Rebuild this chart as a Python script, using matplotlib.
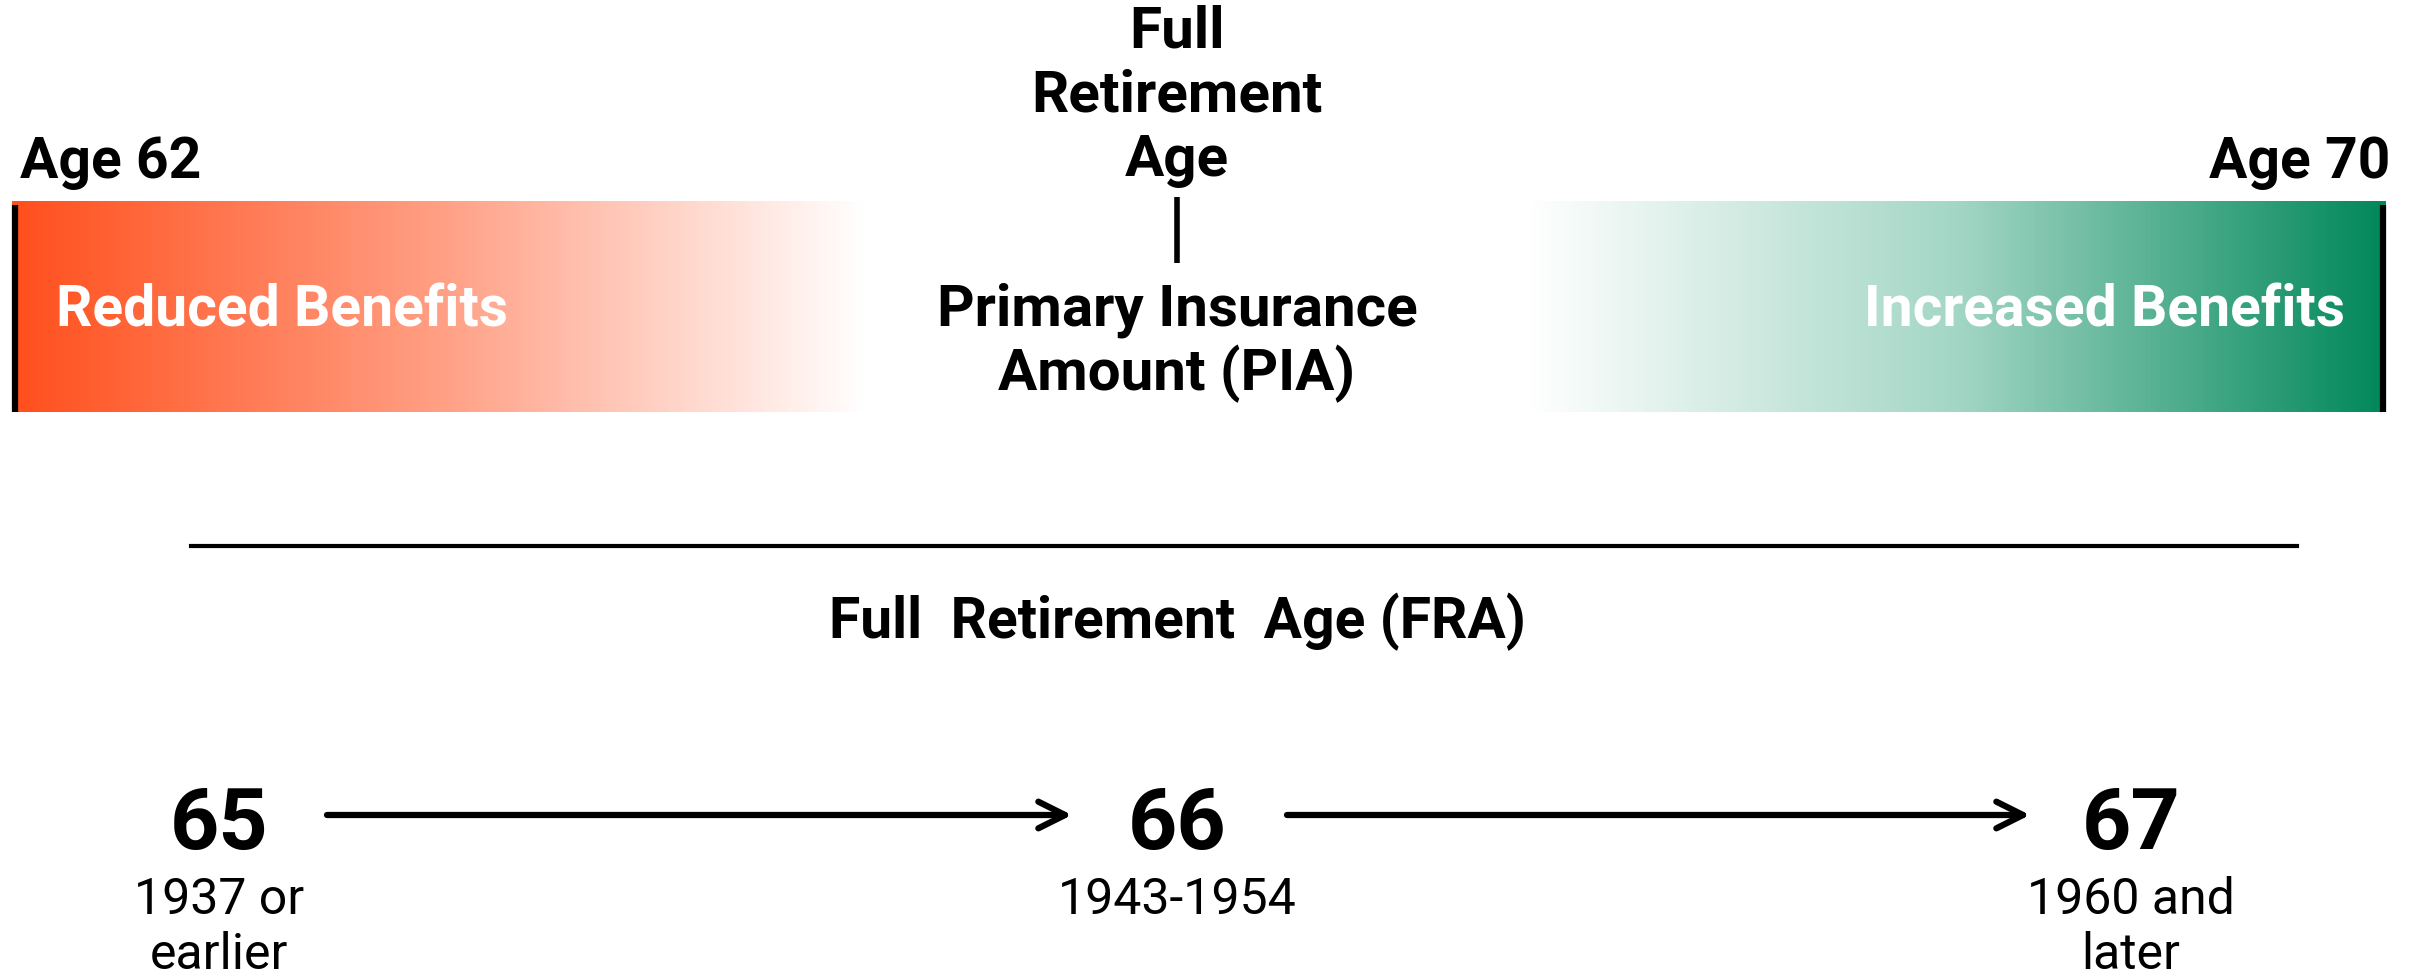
import numpy as np
import matplotlib.pyplot as plt
from matplotlib.colors import LinearSegmentedColormap

plt.rcParams['font.family'] = ['Roboto', 'DejaVu Sans']

# chart content
start_age = "Age 62"
end_age = "Age 70"
left_label = "Reduced Benefits"
right_label = "Increased Benefits"
fra_title = ["Full", "Retirement", "Age"]
pia_title = ["Primary Insurance", "Amount (PIA)"]
section_title = "Full  Retirement  Age (FRA)"
fra_ages = [65, 66, 67]
birth_years = [["1937 or", "earlier"], ["1943-1954"], ["1960 and", "later"]]

W, H = 2420, 976
fig = plt.figure(figsize=(W / 100, H / 100), dpi=100)
ax = fig.add_axes([0, 0, 1, 1])
ax.set_xlim(0, W)
ax.set_ylim(H, 0)
ax.axis('off')

# gradient bars
grad = np.linspace(0, 1, 256).reshape(1, -1)
red_cmap = LinearSegmentedColormap.from_list('red', ['#ff4f1c', '#ff9f84', '#ffffff'])
green_cmap = LinearSegmentedColormap.from_list('green', ['#ffffff', '#a3d6c5', '#00875a'])
bar_top, bar_bot = 201, 412
ax.imshow(grad, cmap=red_cmap, extent=[12, 866, bar_bot, bar_top], aspect='auto')
ax.imshow(grad, cmap=green_cmap, extent=[1528, 2386, bar_bot, bar_top], aspect='auto')
ax.plot([15, 15], [205, 412], color='black', lw=4.5, solid_capstyle='butt')
ax.plot([2383, 2383], [205, 412], color='black', lw=4.5, solid_capstyle='butt')

ax.text(20, 162, start_age, fontsize=41, fontweight='bold', ha='left', va='center')
ax.text(2390, 162, end_age, fontsize=41, fontweight='bold', ha='right', va='center')
ax.text(56, 311, left_label, fontsize=41, fontweight='bold', color='white',
        ha='left', va='center')
ax.text(2345, 311, right_label, fontsize=41, fontweight='bold', color='white',
        ha='right', va='center')

# full retirement age marker in the middle
cx = 1177
for i, line in enumerate(fra_title):
    ax.text(cx, 32 + i * 64, line, fontsize=42, fontweight='bold', ha='center', va='center')
ax.plot([cx, cx], [197, 263], color='black', lw=4, solid_capstyle='butt')
for i, line in enumerate(pia_title):
    ax.text(cx, 310 + i * 64, line, fontsize=42, fontweight='bold', ha='center', va='center')

# divider and section title
ax.plot([191, 2297], [546, 546], color='black', lw=3)
ax.text(cx, 622, section_title, fontsize=41, fontweight='bold', ha='center', va='center')

# FRA timeline
xs = [219, 1177, 2131]
for x, age, yrs in zip(xs, fra_ages, birth_years):
    ax.text(x, 826, str(age), fontsize=62, fontweight='bold', ha='center', va='center')
    for j, line in enumerate(yrs):
        ax.text(x, 900 + j * 55, line, fontsize=36, ha='center', va='center')

for (x0, x1) in [(327, 1072), (1287, 2030)]:
    ax.annotate('', xy=(x1, 815), xytext=(x0, 815),
                arrowprops=dict(arrowstyle='->', lw=4.5, color='black',
                                mutation_scale=48, shrinkA=0, shrinkB=0))

fig.savefig('out.png', dpi=100)
